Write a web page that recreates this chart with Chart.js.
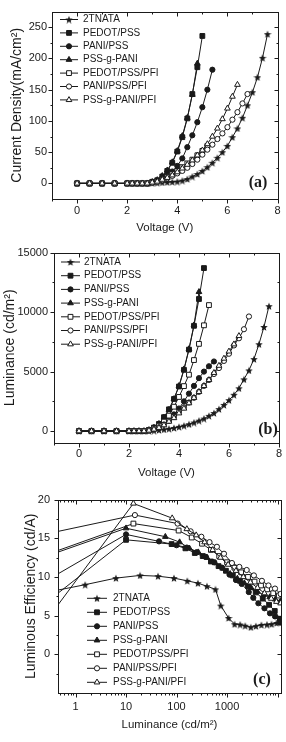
<!DOCTYPE html>
<html>
<head>
<meta charset="utf-8">
<script src="https://cdn.jsdelivr.net/npm/chart.js@4.4.0/dist/chart.umd.min.js"></script>
<style>
  html, body { margin: 0; padding: 0; background: #fff; }
  canvas { position: absolute; left: 0; }
</style>
</head>
<body>
<canvas id="chartA" width="286" height="240" style="top:0px"></canvas>
<canvas id="chartB" width="286" height="245" style="top:240px"></canvas>
<canvas id="chartC" width="286" height="257" style="top:485px"></canvas>
<script>
const seriesNames = ["2TNATA", "PEDOT/PSS", "PANI/PSS", "PSS-g-PANI", "PEDOT/PSS/PFI", "PANI/PSS/PFI", "PSS-g-PANI/PFI"];

//---------------(a) current density vs voltage
const voltage = [0, 0.5, 1, 1.5, 2, 2.2, 2.4, 2.6, 2.8, 3, 3.2, 3.4, 3.6, 3.8, 4, 4.2, 4.4, 4.6, 4.8, 5, 5.2, 5.4, 5.6, 5.8, 6, 6.2, 6.4, 6.6, 6.8, 7, 7.2, 7.4, 7.6];
const jTNATA = [0, 0, 0, 0, 0, 0, 0, 0, 0, 0.5, 1, 1.5, 2, 2.5, 3, 4.5, 7, 11, 15, 20, 26, 33, 41, 50, 60, 74, 88, 105, 125, 146, 170, 201, 239];
const jPEDOT = [0, 0, 0, 0, 0, 0, 0, 0, 0, 2.5, 5, 11, 20, 33, 51, 74, 104, 143, 186, 236];
const jPANI = [0, 0, 0, 0, 0, 0, 0, 0, 0, 1.5, 3.5, 7, 12, 19, 28, 40, 58, 77, 98, 122, 150, 182];
const jPSSg = [0, 0, 0, 0, 0, 0, 0, 0, 0, 2.5, 5.5, 12, 21, 34, 52, 76, 105, 142, 192];
const jPEDOTPFI = [0, 0, 0, 0, 0, 0, 0, 0, 0, 1.5, 3, 6, 10, 15, 20, 26, 32, 38, 45, 52, 60];
const jPANIPFI = [0, 0, 0, 0, 0, 0, 0, 0, 0, 1.2, 2.5, 5, 8, 12, 16, 20, 25, 31, 38, 46, 54, 62, 71, 80, 90, 102, 114, 128, 143];
const jPSSgPFI = [0, 0, 0, 0, 0, 0, 0, 0, 0, 1.5, 3, 6, 9, 13, 18, 24, 30, 37, 45, 53, 63, 75, 88, 103, 120, 139, 158];

//---------------(b) luminance vs voltage
const lumTNATA = [0, 0, 0, 0, 0, 0, 0, 0, 20, 50, 90, 140, 200, 270, 360, 460, 580, 720, 880, 1050, 1280, 1520, 1850, 2200, 2600, 3050, 3600, 4350, 5100, 6050, 7300, 8750, 10500];
const lumPEDOT = [0, 0, 0, 0, 0, 0, 0, 0, 100, 300, 600, 1170, 1830, 2700, 3750, 5150, 6850, 8850, 11100, 13700];
const lumPANI = [0, 0, 0, 0, 0, 0, 0, 0, 60, 180, 380, 650, 1000, 1400, 1900, 2500, 3150, 3800, 4450, 5000, 5450, 5850];
const lumPSSg = [0, 0, 0, 0, 0, 0, 0, 0, 100, 300, 620, 1150, 1800, 2700, 3800, 5200, 6900, 8900, 11700];
const lumPEDOTPFI = [0, 0, 0, 0, 0, 0, 0, 0, 80, 220, 450, 800, 1300, 2050, 2870, 3780, 4740, 5970, 7330, 8890, 10590];
const lumPANIPFI = [0, 0, 0, 0, 0, 0, 0, 0, 60, 160, 320, 550, 850, 1200, 1600, 2000, 2400, 2800, 3300, 3800, 4300, 4800, 5300, 5900, 6500, 7200, 7800, 8560, 9630];
const lumPSSgPFI = [0, 0, 0, 0, 0, 0, 0, 0, 50, 140, 280, 500, 800, 1100, 1500, 1900, 2350, 2800, 3300, 3800, 4300, 4900, 5500, 6100, 6700, 7300, 8000];

//---------------(c) luminous efficiency vs luminance
const effLumTNATA = [0.2, 1.55, 6.3, 19, 43, 89, 163, 265, 400, 590, 750, 1070, 1410, 1820, 2290, 2950, 3720, 4790, 6170, 7590, 9550, 11200];
const effTNATA = [7.85, 9.0, 9.85, 10.2, 10.1, 9.85, 9.5, 9.2, 8.8, 8.4, 6.3, 4.7, 3.9, 3.85, 3.7, 3.5, 3.65, 3.8, 3.85, 3.9, 4.05, 4.3];
const effLumPEDOT = [0.2, 10, 80, 150, 230, 330, 480, 680, 950, 1300, 1800, 2600, 3700, 5100, 6800, 8800, 11100];
const effPEDOT = [6.1, 14.8, 14.25, 13.7, 13.1, 12.7, 12.0, 11.4, 10.8, 10.2, 9.5, 8.8, 8.0, 7.2, 6.4, 5.6, 4.6];
const effLumPANI = [0.2, 10, 45, 100, 160, 250, 380, 560, 800, 1120, 1500, 1950, 2690, 3310, 4170, 5500, 7080, 8900, 11200];
const effPANI = [9.07, 15.5, 14.6, 14.1, 13.8, 13.2, 12.6, 11.9, 11.2, 10.3, 9.6, 9.1, 8.05, 7.3, 6.6, 5.95, 5.3, 4.9, 4.1];
const effLumPSSg = [0.2, 10, 60, 115, 180, 270, 400, 580, 820, 1150, 1600, 2200, 3000, 4000, 5300, 7000, 9000, 11500];
const effPSSg = [12.4, 16.3, 15.2, 14.5, 13.7, 13.2, 12.5, 11.8, 11.1, 10.4, 9.8, 9.2, 8.6, 8.1, 7.7, 7.4, 7.1, 6.9];
const effLumPEDOTPFI = [0.2, 14, 110, 200, 320, 480, 700, 1000, 1400, 1900, 2600, 3500, 4700, 6200, 8200, 10600];
const effPEDOTPFI = [12.6, 16.9, 16.0, 15.1, 14.3, 13.5, 12.7, 11.9, 11.2, 10.6, 10.0, 9.4, 8.9, 8.4, 7.9, 7.6];
const effLumPANIPFI = [0.2, 15, 105, 190, 310, 450, 630, 870, 1250, 1750, 2450, 3400, 4900, 6600, 8900, 11500];
const effPANIPFI = [15.4, 18.0, 16.9, 15.9, 15.2, 14.5, 13.9, 13.0, 11.8, 11.3, 10.9, 10.2, 9.5, 8.9, 8.5, 7.8];
const effLumPSSgPFI = [0.2, 14, 82, 160, 245, 360, 520, 740, 1050, 1500, 2100, 2900, 4000, 5500, 7500, 9500, 11500];
const effPSSgPFI = [3.3, 19.5, 17.6, 16.2, 15.4, 14.5, 13.5, 12.5, 11.6, 10.8, 10.0, 9.3, 8.6, 7.9, 7.2, 6.8, 6.6];

//---------------ticks
const voltTicks = [0, 2, 4, 6, 8];
const voltMinor = [-1, 1, 3, 5, 7];
const jTicks = [0, 50, 100, 150, 200, 250];
const jMinor = [25, 75, 125, 175, 225];
const lumTicks = [0, 5000, 10000, 15000];
const lumMinor = [2500, 7500, 12500];
const effTicks = [0, 5, 10, 15, 20];
const effMinor = [-2.5, 2.5, 7.5, 12.5, 17.5];
const logTicks = [1, 10, 100, 1000];
const logMarks = [1, 10, 100, 1000, 10000];

const SANS = '"Liberation Sans", Arial, sans-serif';
const INK = "#1a1a1a";

// filled five point star used as the 2TNATA marker
function makestar(size) {
  const c = document.createElement("canvas");
  c.width = size;
  c.height = size;
  const g = c.getContext("2d");
  g.fillStyle = INK;
  g.beginPath();
  for (let i = 0; i < 10; i++) {
    const r = i % 2 ? size * 0.21 : size * 0.5;
    const a = -Math.PI / 2 + (i * Math.PI) / 5;
    const px = size / 2 + r * Math.cos(a);
    const py = size / 2 + size * 0.06 + r * Math.sin(a);
    if (i == 0) g.moveTo(px, py);
    else g.lineTo(px, py);
  }
  g.closePath();
  g.fill();
  return c;
}
const starimg = makestar(8);

const markers = [
  { style: starimg, fill: INK, r: 4 },
  { style: "rect", fill: INK, r: 3.4 },
  { style: "circle", fill: INK, r: 2.6 },
  { style: "triangle", fill: INK, r: 3.3 },
  { style: "rect", fill: "#fff", r: 3.4 },
  { style: "circle", fill: "#fff", r: 2.6 },
  { style: "triangle", fill: "#fff", r: 3.3 },
];

function makesets(xlists, ylists) {
  return ylists.map((ys, i) => ({
    label: seriesNames[i],
    data: ys.map((y, k) => ({ x: xlists[i][k], y: y })),
    borderColor: INK,
    borderWidth: 1,
    pointStyle: markers[i].style,
    pointRadius: markers[i].r,
    pointBackgroundColor: markers[i].fill,
    pointBorderColor: INK,
    pointBorderWidth: 1,
    fill: false,
    tension: 0,
    order: 6 - i,
  }));
}

//--------------frame, inward/outward ticks and panel tag
const framePlugin = {
  id: "frame",
  afterDraw(chart, args, o) {
    const { ctx, chartArea: a } = chart;
    const sx = chart.scales.x;
    const sy = chart.scales.y;
    const L = Math.round(a.left) + 0.5;
    const R = Math.round(a.right) + 0.5;
    const T = Math.round(a.top) + 0.5;
    const B = Math.round(a.bottom) + 0.5;
    ctx.save();
    ctx.strokeStyle = INK;
    ctx.lineWidth = 1;
    ctx.strokeRect(L, T, R - L, B - T);
    const seg = (x1, y1, x2, y2) => {
      ctx.beginPath();
      ctx.moveTo(x1, y1);
      ctx.lineTo(x2, y2);
      ctx.stroke();
    };
    const xt = (vals, len) =>
      vals.forEach((v) => {
        const p = Math.round(sx.getPixelForValue(v)) + 0.5;
        seg(p, B, p, B + len);
        seg(p, T, p, T + len);
      });
    const yt = (vals, len) =>
      vals.forEach((v) => {
        const p = Math.round(sy.getPixelForValue(v)) + 0.5;
        seg(L, p, L - len, p);
        seg(R, p, R - len, p);
      });
    xt(o.xMajor, 4);
    xt(o.xMinor, 2);
    yt(o.yMajor, 4);
    yt(o.yMinor, 2);
    ctx.fillStyle = INK;
    ctx.font = 'bold 16px "Liberation Serif", "Times New Roman", serif';
    ctx.textAlign = "center";
    ctx.textBaseline = "middle";
    ctx.fillText(o.tag, o.tagX, o.tagY);
    ctx.restore();
  },
};

//--------------legend inside the plot
const legendPlugin = {
  id: "innerLegend",
  afterDraw(chart, args, o) {
    const ctx = chart.ctx;
    ctx.save();
    chart.data.datasets.forEach((ds, i) => {
      const y = o.y0 + i * o.dy;
      ctx.strokeStyle = INK;
      ctx.lineWidth = 1;
      ctx.beginPath();
      ctx.moveTo(o.x0, y);
      ctx.lineTo(o.x1, y);
      ctx.stroke();
      ctx.fillStyle = ds.pointBackgroundColor;
      Chart.helpers.drawPoint(ctx, { pointStyle: ds.pointStyle, radius: ds.pointRadius, rotation: 0, borderWidth: 1 }, (o.x0 + o.x1) / 2, y);
      ctx.fillStyle = INK;
      ctx.font = "10px " + SANS;
      ctx.textAlign = "left";
      ctx.textBaseline = "middle";
      ctx.fillText(ds.label, o.tx, y);
    });
    ctx.restore();
  },
};

function buildchart(id, sets, c) {
  return new Chart(document.getElementById(id), {
    type: "line",
    data: { datasets: sets },
    options: {
      responsive: false,
      animation: false,
      events: [],
      layout: { padding: c.pad },
      plugins: {
        legend: { display: false },
        tooltip: { enabled: false },
        frame: c.frame,
        innerLegend: c.legend,
      },
      elements: { line: { clip: c.clip } },
      scales: {
        x: {
          type: c.xType,
          min: c.xMin,
          max: c.xMax,
          afterBuildTicks: (s) => {
            s.ticks = c.xLabels.map((v) => ({ value: v }));
          },
          afterFit: (s) => {
            s.height = c.xH;
          },
          grid: { display: false, drawTicks: false },
          border: { display: false },
          ticks: { autoSkip: false, maxRotation: 0, padding: c.xPad, color: INK, font: { family: SANS, size: 11 }, callback: (v) => String(v) },
          title: { display: true, text: c.xTitle, color: INK, font: { family: SANS, size: 11.5 }, padding: { top: 0, bottom: c.xTitlePad } },
        },
        y: {
          type: "linear",
          min: c.yMin,
          max: c.yMax,
          afterBuildTicks: (s) => {
            s.ticks = c.yLabels.map((v) => ({ value: v }));
          },
          afterFit: (s) => {
            s.width = c.yW;
          },
          grid: { display: false, drawTicks: false },
          border: { display: false },
          ticks: { autoSkip: false, padding: c.yPad, color: INK, font: { family: SANS, size: 11 }, callback: (v) => String(v) },
          title: { display: true, text: c.yTitle, color: INK, font: { family: SANS, size: 14 }, padding: { top: c.yTitlePad, bottom: 0 } },
        },
      },
    },
    plugins: [framePlugin, legendPlugin],
  });
}

const voltLists = seriesNames.map(() => voltage);

buildchart("chartA", makesets(voltLists, [jTNATA, jPEDOT, jPANI, jPSSg, jPEDOTPFI, jPANIPFI, jPSSgPFI]), {
  pad: { top: 8, right: 4, left: 0, bottom: 0 },
  clip: 4,
  xType: "linear", xMin: -1, xMax: 8, xLabels: voltTicks, xH: 41, xPad: 5.4, xTitle: "Voltage (V)", xTitlePad: 5,
  yMin: -25, yMax: 275, yLabels: jTicks, yW: 52, yPad: 5, yTitle: "Current Density(mA/cm\u00b2)", yTitlePad: 8.6,
  frame: { xMajor: voltTicks, xMinor: voltMinor, yMajor: jTicks, yMinor: jMinor, tag: "(a)", tagX: 258, tagY: 183 },
  legend: { x0: 60, x1: 78, tx: 83, y0: 19.5, dy: 13.4 },
});

buildchart("chartB", makesets(voltLists, [lumTNATA, lumPEDOT, lumPANI, lumPSSg, lumPEDOTPFI, lumPANIPFI, lumPSSgPFI]), {
  pad: { top: 7, right: 4, left: 0, bottom: 0 },
  clip: 4,
  xType: "linear", xMin: -1, xMax: 8, xLabels: voltTicks, xH: 42, xPad: 4, xTitle: "Voltage (V)", xTitlePad: 4.8,
  yMin: -1000, yMax: 15000, yLabels: lumTicks, yW: 54, yPad: 6, yTitle: "Luminance (cd/m\u00b2)", yTitlePad: 1.6,
  frame: { xMajor: voltTicks, xMinor: voltMinor, yMajor: lumTicks, yMinor: lumMinor, tag: "(b)", tagX: 268, tagY: 189.5 },
  legend: { x0: 61, x1: 80, tx: 84, y0: 22, dy: 13.7 },
});

const logMinor = [];
for (let d = 0.1; d < 20000; d *= 10) {
  for (let k = 2; k <= 9; k++) {
    const v = Math.round(k * d * 1000) / 1000;
    if (v > 0.45 && v < 11700) logMinor.push(v);
  }
}

buildchart("chartC", makesets(
  [effLumTNATA, effLumPEDOT, effLumPANI, effLumPSSg, effLumPEDOTPFI, effLumPANIPFI, effLumPSSgPFI],
  [effTNATA, effPEDOT, effPANI, effPSSg, effPEDOTPFI, effPANIPFI, effPSSgPFI]), {
  pad: { top: 10, right: 3, left: 0, bottom: 0 },
  clip: { left: 0, top: 5, right: 5, bottom: 5 },
  xType: "logarithmic", xMin: 0.45, xMax: 11700, xLabels: logTicks, xH: 49, xPad: 7.4, xTitle: "Luminance (cd/m\u00b2)", xTitlePad: 10,
  yMin: -5, yMax: 20, yLabels: effTicks, yW: 58, yPad: 8, yTitle: "Luminous Efficiency (cd/A)", yTitlePad: 23,
  frame: { xMajor: logMarks, xMinor: logMinor, yMajor: effTicks, yMinor: effMinor, tag: "(c)", tagX: 262, tagY: 195 },
  legend: { x0: 87, x1: 107, tx: 113, y0: 113.3, dy: 14 },
});
</script>
</body>
</html>
